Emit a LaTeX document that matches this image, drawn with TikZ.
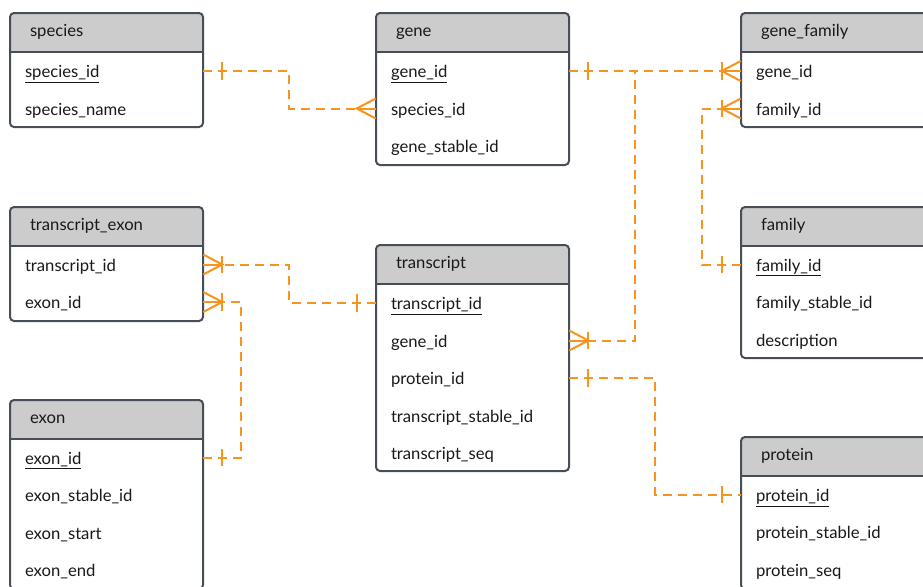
\documentclass[tikz,border=0pt]{standalone}
\usepackage{fontspec}
\setmainfont{Lato}
\usetikzlibrary{decorations.markings}
\definecolor{relorange}{RGB}{247,148,30}
\definecolor{tableline}{RGB}{72,78,88}
\definecolor{headgray}{RGB}{204,204,204}
\definecolor{fieldtext}{RGB}{25,25,25}

\begin{document}
\begin{tikzpicture}[x=0.75pt,y=0.75pt,yscale=-1,xscale=1,
  tblbox/.style={draw=tableline, line width=1.5pt, rounded corners=3pt},
  tblsep/.style={draw=tableline, line width=1.5pt},
  headtxt/.style={anchor=center, inner xsep=15pt, inner ysep=0pt, text width=114.75pt, text height=8pt, text depth=2.75pt, align=left, text=fieldtext, font=\fontsize{12.5pt}{14pt}\selectfont},
  fieldtxt/.style={anchor=center, inner xsep=11.25pt, inner ysep=0pt, text width=122.25pt, text height=12pt, text depth=2.2pt, align=left, text=fieldtext, font=\fontsize{12.5pt}{14pt}\selectfont},
  rel/.style={draw=relorange, line width=1.5pt, dash pattern=on 6.75pt off 4.5pt},
  relmark/.style={draw=relorange, line width=1.5pt, solid},
  onestart/.style={postaction={decorate, decoration={markings, mark=at position 14.25pt with {\draw[relmark] (0,-6.5pt) -- (0,6.5pt);}}}},
  oneend/.style={postaction={decorate, decoration={markings, mark=at position -14.25pt with {\draw[relmark] (0,-6.5pt) -- (0,6.5pt);}}}},
  manyend/.style={postaction={decorate, decoration={markings, mark=at position -14.25pt with {\draw[relmark] (14.25pt,-7.5pt) -- (0,0) -- (14.25pt,7.5pt); \draw[relmark] (0,0) -- (14.25pt,0);}}}},
  onemanyend/.style={oneend, manyend}]
\useasboundingbox (0,0) rectangle (923,586);

% Table species
\begin{scope}
\clip[rounded corners=3pt] (10,13) rectangle (203,127);
\fill[headgray] (10,13) rectangle (203,52);
\end{scope}
\draw[tblbox] (10,13) rectangle (203,127);
\draw[tblsep] (10,52) -- (203,52);
\node[headtxt] (species) at (106.5,32.5) {species};
\node[fieldtxt] (species_species_id) at (106.5,71) {\underline{species\_id}};
\node[fieldtxt] (species_species_name) at (106.5,108.5) {species\_name};

% Table gene
\begin{scope}
\clip[rounded corners=3pt] (376,13) rectangle (569,165);
\fill[headgray] (376,13) rectangle (569,52);
\end{scope}
\draw[tblbox] (376,13) rectangle (569,165);
\draw[tblsep] (376,52) -- (569,52);
\node[headtxt] (gene) at (472.5,32.5) {gene};
\node[fieldtxt] (gene_gene_id) at (472.5,71) {\underline{gene\_id}};
\node[fieldtxt] (gene_species_id) at (472.5,108.5) {species\_id};
\node[fieldtxt] (gene_gene_stable_id) at (472.5,146) {gene\_stable\_id};

% Table gene_family
\begin{scope}
\clip[rounded corners=3pt] (741,13) rectangle (934,127);
\fill[headgray] (741,13) rectangle (934,52);
\end{scope}
\draw[tblbox] (741,13) rectangle (934,127);
\draw[tblsep] (741,52) -- (934,52);
\node[headtxt] (gene_family) at (837.5,32.5) {gene\_family};
\node[fieldtxt] (gene_family_gene_id) at (837.5,71) {gene\_id};
\node[fieldtxt] (gene_family_family_id) at (837.5,108.5) {family\_id};

% Table transcript_exon
\begin{scope}
\clip[rounded corners=3pt] (10,207) rectangle (203,321);
\fill[headgray] (10,207) rectangle (203,246);
\end{scope}
\draw[tblbox] (10,207) rectangle (203,321);
\draw[tblsep] (10,246) -- (203,246);
\node[headtxt] (transcript_exon) at (106.5,226.5) {transcript\_exon};
\node[fieldtxt] (transcript_exon_transcript_id) at (106.5,264.5) {transcript\_id};
\node[fieldtxt] (transcript_exon_exon_id) at (106.5,302) {exon\_id};

% Table transcript
\begin{scope}
\clip[rounded corners=3pt] (376,245) rectangle (569,471);
\fill[headgray] (376,245) rectangle (569,284);
\end{scope}
\draw[tblbox] (376,245) rectangle (569,471);
\draw[tblsep] (376,284) -- (569,284);
\node[headtxt] (transcript) at (472.5,264.5) {transcript};
\node[fieldtxt] (transcript_transcript_id) at (472.5,303) {\underline{transcript\_id}};
\node[fieldtxt] (transcript_gene_id) at (472.5,340.5) {gene\_id};
\node[fieldtxt] (transcript_protein_id) at (472.5,378) {protein\_id};
\node[fieldtxt] (transcript_transcript_stable_id) at (472.5,415.5) {transcript\_stable\_id};
\node[fieldtxt] (transcript_transcript_seq) at (472.5,453) {transcript\_seq};

% Table family
\begin{scope}
\clip[rounded corners=3pt] (741,207) rectangle (934,358);
\fill[headgray] (741,207) rectangle (934,246);
\end{scope}
\draw[tblbox] (741,207) rectangle (934,358);
\draw[tblsep] (741,246) -- (934,246);
\node[headtxt] (family) at (837.5,226.5) {family};
\node[fieldtxt] (family_family_id) at (837.5,264.5) {\underline{family\_id}};
\node[fieldtxt] (family_family_stable_id) at (837.5,302) {family\_stable\_id};
\node[fieldtxt] (family_description) at (837.5,339.5) {description};

% Table exon
\begin{scope}
\clip[rounded corners=3pt] (10,400) rectangle (203,589);
\fill[headgray] (10,400) rectangle (203,439);
\end{scope}
\draw[tblbox] (10,400) rectangle (203,589);
\draw[tblsep] (10,439) -- (203,439);
\node[headtxt] (exon) at (106.5,419.5) {exon};
\node[fieldtxt] (exon_exon_id) at (106.5,457.5) {\underline{exon\_id}};
\node[fieldtxt] (exon_exon_stable_id) at (106.5,495) {exon\_stable\_id};
\node[fieldtxt] (exon_exon_start) at (106.5,532.5) {exon\_start};
\node[fieldtxt] (exon_exon_end) at (106.5,570) {exon\_end};

% Table protein
\begin{scope}
\clip[rounded corners=3pt] (741,437) rectangle (934,589);
\fill[headgray] (741,437) rectangle (934,476);
\end{scope}
\draw[tblbox] (741,437) rectangle (934,589);
\draw[tblsep] (741,476) -- (934,476);
\node[headtxt] (protein) at (837.5,456.5) {protein};
\node[fieldtxt] (protein_protein_id) at (837.5,494.5) {\underline{protein\_id}};
\node[fieldtxt] (protein_protein_stable_id) at (837.5,532) {protein\_stable\_id};
\node[fieldtxt] (protein_protein_seq) at (837.5,569.5) {protein\_seq};

% Relations
\draw[rel, onestart, manyend] (species_species_id.east) -- ++(86,0) |- (gene_species_id.west);
\draw[rel, onestart, onemanyend] (gene_gene_id.east) -- (gene_family_gene_id.west);
\draw[rel, onestart, onemanyend] (gene_gene_id.east) -- ++(66,0) |- (transcript_gene_id.east);
\draw[rel, onestart, onemanyend] (family_family_id.west) -- ++(-39,0) |- (gene_family_family_id.west);
\draw[rel, onestart, onemanyend] (transcript_transcript_id.west) -- ++(-87,0) |- (transcript_exon_transcript_id.east);
\draw[rel, onestart, onemanyend] (exon_exon_id.east) -- ++(38,0) |- (transcript_exon_exon_id.east);
\draw[rel, onestart, oneend] (transcript_protein_id.east) -- ++(86,0) |- (protein_protein_id.west);

\end{tikzpicture}
\end{document}
